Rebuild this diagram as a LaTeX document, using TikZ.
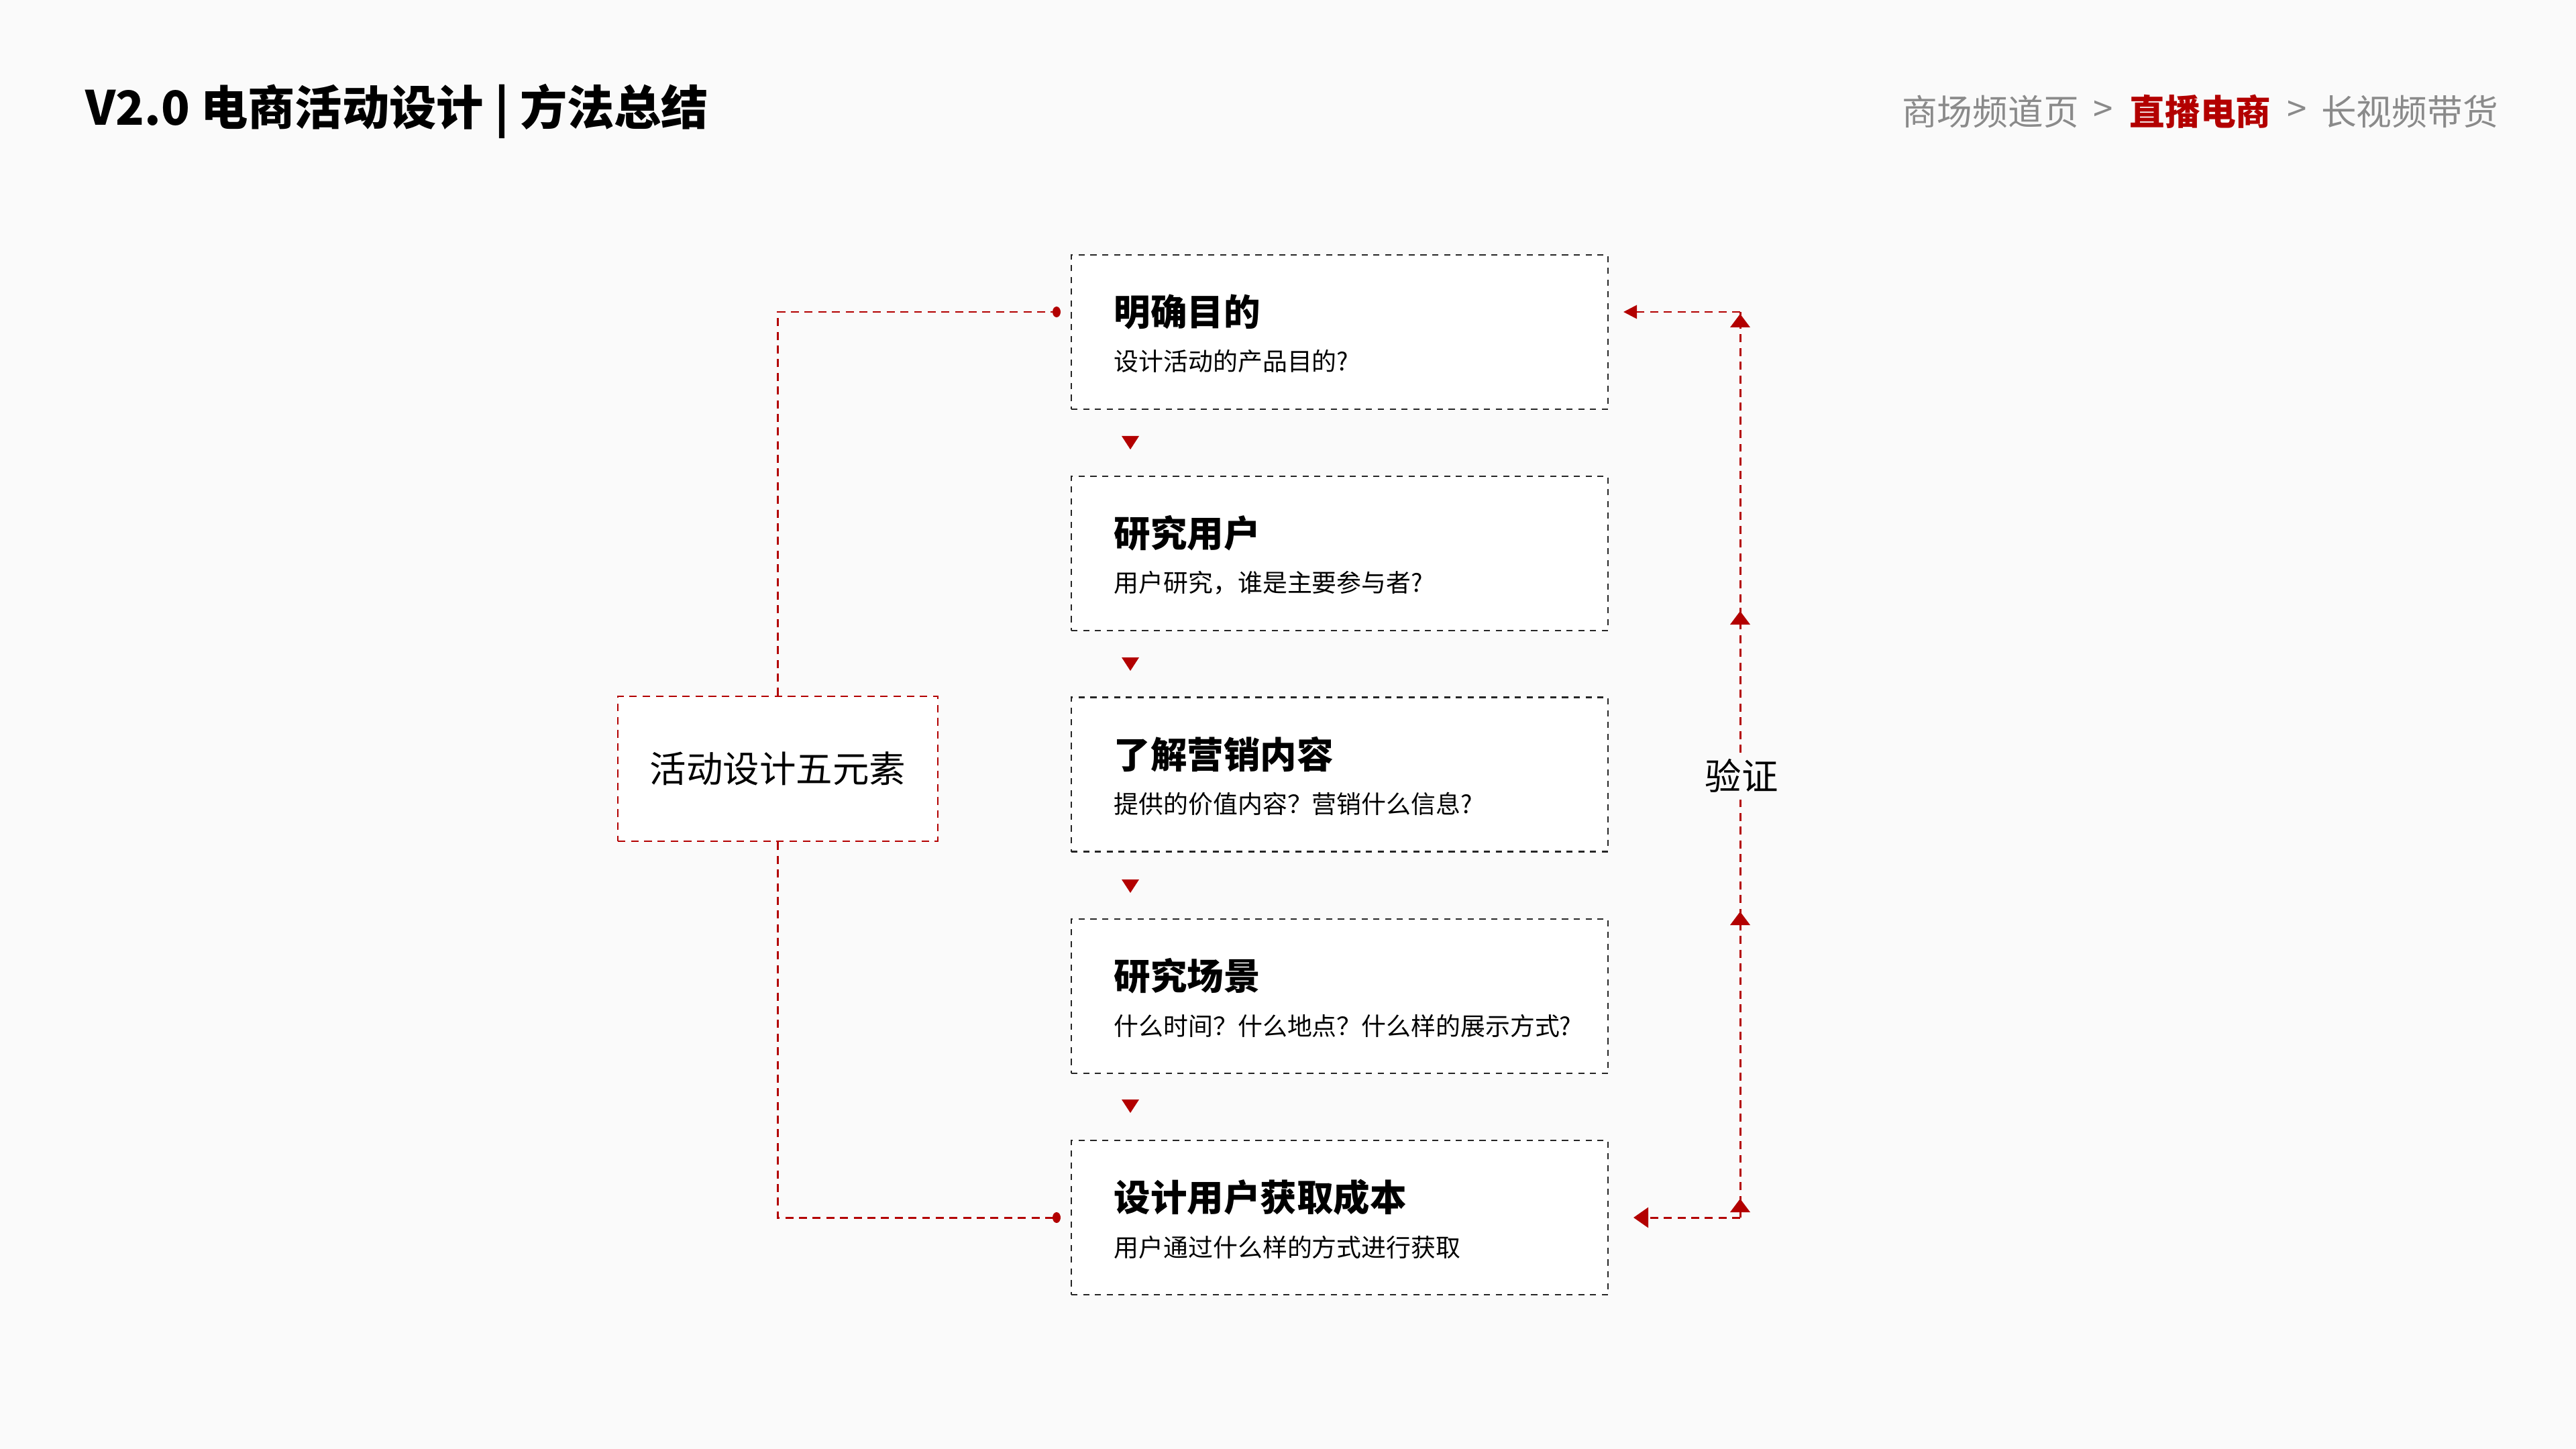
\documentclass[tikz,border=0pt]{standalone}
\usepackage{fontspec}
\setmainfont{Noto Sans CJK SC}
\usetikzlibrary{arrows.meta}
\definecolor{bg}{HTML}{FAFAFA}
\definecolor{rd}{HTML}{B30000}
\definecolor{gr}{HTML}{8A8A8A}
\tikzset{
  box/.style={draw=black!85, dash pattern=on 2.6pt off 2.4pt, line width=0.8pt, fill=white, minimum width=8cm, minimum height=2.3cm, inner sep=0},
  lbox/.style={draw=rd, dash pattern=on 3.2pt off 2.4pt, line width=0.8pt, fill=white, minimum width=4.77cm, minimum height=2.16cm, font=\fontsize{15.5}{18}\selectfont},
  rline/.style={draw=rd, dash pattern=on 3.4pt off 2.4pt, line width=0.85pt},
  ttl/.style={anchor=west, inner sep=0, font=\fontsize{15.5}{18}\selectfont\bfseries},
  sub/.style={anchor=west, inner sep=0, font=\fontsize{10.5}{13}\selectfont},
  crumb/.style={inner sep=0, font=\fontsize{15}{18}\selectfont, text=gr},
  tip/.style={-{Triangle[length=0.2cm,width=0.3cm]}, shorten >=0pt},
}
\newcommand\tridown[2]{\fill[rd] (#1-0.13,#2+0.09) -- (#1+0.13,#2+0.09) -- (#1,#2-0.11) -- cycle;}
\newcommand\triup[2]{\fill[rd] (#1-0.15,#2-0.1) -- (#1+0.15,#2-0.1) -- (#1,#2+0.1) -- cycle;}
\begin{document}
\begin{tikzpicture}
\fill[bg] (0,0) rectangle (38.4,-21.6);
\useasboundingbox (0,0) rectangle (38.4,-21.6);
% header
\node[anchor=west, inner sep=0, font=\fontsize{20}{24}\selectfont\bfseries] (title) at (1.27,-1.66) {V2.0 电商活动设计 | 方法总结};
\node[crumb] (c1) at (29.67,-1.66) {商场频道页};
\node[crumb] (g1) at (31.35,-1.66) {\textgreater};
\node[crumb, text=rd, font=\fontsize{15}{18}\selectfont\bfseries] (c2) at (32.8,-1.66) {直播电商};
\node[crumb] (g2) at (34.24,-1.66) {\textgreater};
\node[crumb] (c3) at (35.92,-1.66) {长视频带货};
% boxes
\foreach \i/\y/\t/\s in {1/-4.95/明确目的/设计活动的产品目的?,
  2/-8.25/研究用户/{用户研究，谁是主要参与者?},
  3/-11.545/了解营销内容/{提供的价值内容？营销什么信息?},
  4/-14.85/研究场景/{什么时间？什么地点？什么样的展示方式?},
  5/-18.15/设计用户获取成本/用户通过什么样的方式进行获取}{
  \node[box] (b\i) at (19.97,\y) {};
  \node[ttl] (t\i) at (16.6,\y+0.3) {\t};
  \node[sub] (s\i) at (16.6,\y-0.44) {\s};
}
\tridown{16.85}{-6.59}
\tridown{16.85}{-9.89}
\tridown{16.85}{-13.2}
\tridown{16.85}{-16.48}
% left
\node[lbox] (lb) at (11.595,-11.46) {活动设计五元素};
\coordinate (l1) at (11.595,-4.65);
\coordinate (l5) at (11.595,-18.15);
\coordinate (d1) at (15.75,-4.65);
\coordinate (d5) at (15.75,-18.15);
\draw[rline] (lb.north) -- (l1) -- (d1);
\draw[rline] (lb.south) -- (l5) -- (d5);
\fill[rd] (d1) ellipse (0.06 and 0.08);
\fill[rd] (d5) ellipse (0.06 and 0.08);
% right
\coordinate (r1) at (25.94,-4.65);
\coordinate (r5) at (25.94,-18.15);
\coordinate (e1) at (24.2,-4.65);
\coordinate (e5) at (24.35,-18.15);
\draw[rline] (r5) -- (r1);
\draw[rline, -{Triangle[length=0.2cm,width=0.2cm]}] (r1) -- (e1);
\draw[rline, -{Triangle[length=0.22cm,width=0.3cm]}] (r5) -- (e5);
\triup{25.94}{-17.97}
\triup{25.94}{-13.69}
\triup{25.94}{-9.21}
\triup{25.94}{-4.78}
\node[fill=bg, inner sep=1pt, font=\fontsize{15.5}{18}\selectfont] (v) at (25.96,-11.56) {验证};
\end{tikzpicture}
\end{document}
